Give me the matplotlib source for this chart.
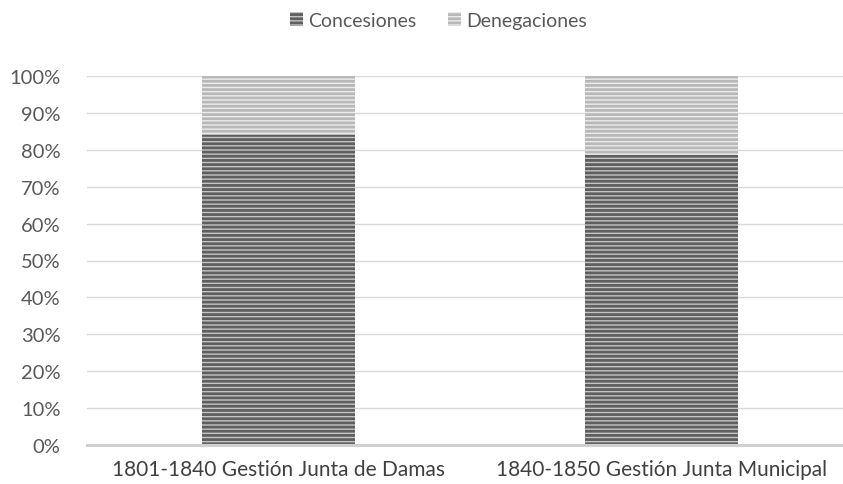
import matplotlib.pyplot as plt
import numpy as np
from matplotlib.ticker import PercentFormatter

plt.rcParams['font.family'] = ['Lato', 'DejaVu Sans']
plt.rcParams['hatch.linewidth'] = 2.0

# Datos
periodos = ['1801-1840 Gestión Junta de Damas', '1840-1850 Gestión Junta Municipal']
concesiones = [0.84, 0.786]
denegaciones = [1 - c for c in concesiones]

fig = plt.figure(figsize=(8.43, 4.85), dpi=100)
ax = fig.add_axes([87 / 843, 39 / 485, 1 - 87 / 843, 369 / 485])

x = np.arange(len(periodos))
ancho = 0.40

ax.bar(x, concesiones, ancho, color='#c4c4c4', edgecolor='#5f5f5f',
       linewidth=0, hatch='----', label='Concesiones', zorder=3)
ax.bar(x, denegaciones, ancho, bottom=concesiones, color='#ececec',
       edgecolor='#b8b8b8', linewidth=0, hatch='----', label='Denegaciones', zorder=3)

ax.set_xlim(-0.5, 1.474)
ax.set_ylim(0, 1)
ax.set_yticks(np.arange(0, 1.01, 0.1))
ax.yaxis.set_major_formatter(PercentFormatter(1.0, decimals=0))
ax.set_xticks(x)
ax.set_xticklabels(periodos, fontsize=15, color='#404040')
ax.tick_params(axis='y', labelsize=14.5, labelcolor='#595959', length=0, pad=19)
ax.tick_params(axis='x', length=0, pad=10)

ax.grid(axis='y', color='#d9d9d9', linewidth=1, zorder=0)
for s in ['top', 'right', 'left']:
    ax.spines[s].set_visible(False)
ax.spines['bottom'].set_color('#d0d0d0')
ax.spines['bottom'].set_linewidth(2.2)
ax.spines['bottom'].set_zorder(4)

fig.legend(loc='upper center', bbox_to_anchor=(0.52, 1.01), ncol=2, frameon=False,
           fontsize=14, handlelength=0.7, handleheight=0.7, handletextpad=0.25,
           columnspacing=1.6, labelcolor='#595959')

plt.savefig('out.png', dpi=100)
